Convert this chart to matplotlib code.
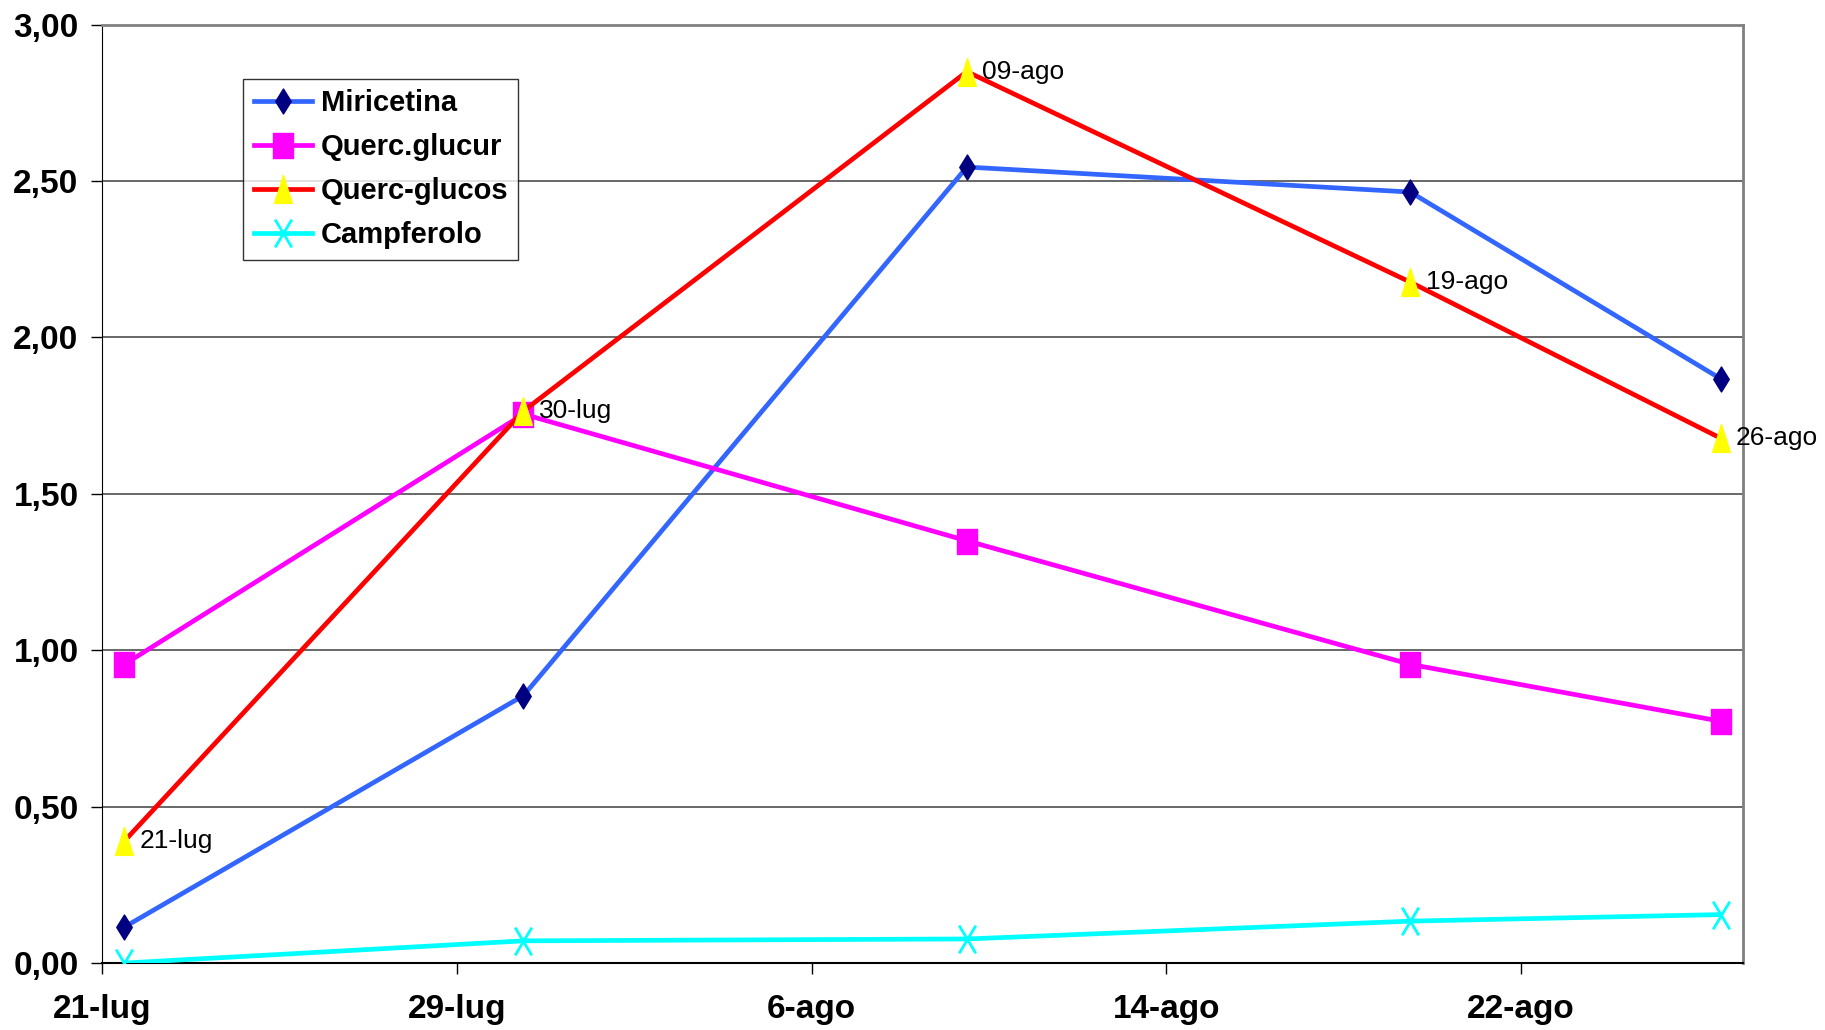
import numpy as np
import pandas as pd
import matplotlib
matplotlib.use('Agg')
import matplotlib.pyplot as plt
from matplotlib.path import Path

plt.rcParams['font.family'] = ['Liberation Sans', 'DejaVu Sans']

# date di campionamento (anno fittizio, serve solo l'asse temporale)
date_campioni = pd.to_datetime(['2007-07-21', '2007-07-30', '2007-08-09', '2007-08-19', '2007-08-26'])
etichette_punti = ['21-lug', '30-lug', '09-ago', '19-ago', '26-ago']

miricetina = [0.115, 0.855, 2.545, 2.465, 1.868]
querc_glucur = [0.955, 1.755, 1.350, 0.955, 0.773]
querc_glucos = [0.390, 1.765, 2.850, 2.177, 1.678]
campferolo = [0.000, 0.071, 0.077, 0.134, 0.155]

inizio = pd.Timestamp('2007-07-21')
fine = pd.Timestamp('2007-08-27')
tick_date = pd.to_datetime(['2007-07-21', '2007-07-29', '2007-08-06', '2007-08-14', '2007-08-22'])
tick_etichette = ['21-lug', '29-lug', '6-ago', '14-ago', '22-ago']
y_ticks = [0.0, 0.5, 1.0, 1.5, 2.0, 2.5, 3.0]

# in Excel i punti cadono a metà giornata
x = np.array([(d - inizio).days for d in date_campioni]) + 0.5
xt = [(d - inizio).days for d in tick_date]

# marcatori un po' "stretti" come nel grafico Excel originale
m_rombo = Path([(0, 1), (0.62, 0), (0, -1), (-0.62, 0), (0, 1)], closed=True)
m_quadro = Path([(-0.4, -0.5), (0.4, -0.5), (0.4, 0.5), (-0.4, 0.5), (-0.4, -0.5)], closed=True)
m_triang = Path([(-0.32, -0.5), (0.32, -0.5), (0, 0.5), (-0.32, -0.5)], closed=True)
m_croce = Path([(-0.3, -0.5), (0.3, 0.5), (-0.3, 0.5), (0.3, -0.5)],
               [Path.MOVETO, Path.LINETO, Path.MOVETO, Path.LINETO])

fig = plt.figure(figsize=(18.25, 10.3), dpi=100)
ax = fig.add_axes([0.056, 0.065, 0.899, 0.911])

for yv in y_ticks[1:-1]:
    ax.axhline(yv, color='#404040', lw=1.1, zorder=0)

ax.plot(x, miricetina, color='#3366FF', lw=3.4, marker=m_rombo, ms=18,
        mfc='#000080', mec='#000080', label='Miricetina', zorder=3)
ax.plot(x, querc_glucur, color='#FF00FF', lw=3.4, marker=m_quadro, ms=18,
        mfc='#FF00FF', mec='#FF00FF', label='Querc.glucur', zorder=4)
ax.plot(x, querc_glucos, color='#FF0000', lw=3.4, marker=m_triang, ms=20,
        mfc='#FFFF00', mec='#FFFF00', label='Querc-glucos', zorder=5)
ax.plot(x, campferolo, color='#00FFFF', lw=3.4, marker=m_croce, ms=20, mew=2,
        mfc='#00FFFF', mec='#00FFFF', label='Campferolo', zorder=6)

for xi, yi, txt in zip(x, querc_glucos, etichette_punti):
    ax.annotate(txt, (xi, yi), xytext=(11, 0), textcoords='offset points',
                ha='left', va='center', fontsize=19, clip_on=False, zorder=7)

ax.set_xlim(0, (fine - inizio).days)
ax.set_ylim(0, 3)
ax.set_xticks(xt)
ax.set_xticklabels(tick_etichette)
ax.set_yticks(y_ticks)
ax.set_yticklabels([f'{v:.2f}'.replace('.', ',') for v in y_ticks])

for lab in ax.get_xticklabels() + ax.get_yticklabels():
    lab.set_fontweight('bold')
    lab.set_fontsize(24)
ax.tick_params(axis='x', direction='out', length=8, width=1, pad=14)
ax.tick_params(axis='y', direction='out', length=8, width=1, pad=9)

ax.spines['left'].set_color('black')
ax.spines['bottom'].set_color('black')
ax.spines['bottom'].set_linewidth(1.5)
ax.spines['top'].set_color('#808080')
ax.spines['right'].set_color('#808080')
ax.spines['top'].set_linewidth(2)
ax.spines['right'].set_linewidth(2)

leg = ax.legend(loc='upper left', bbox_to_anchor=(0.086, 0.942), borderaxespad=0,
                frameon=True, fancybox=False, edgecolor='black',
                prop={'weight': 'bold', 'size': 21},
                handlelength=2.0, borderpad=0.35, labelspacing=0.55, handletextpad=0.3)
leg.get_frame().set_linewidth(1)

fig.savefig('out.png', dpi=100)
